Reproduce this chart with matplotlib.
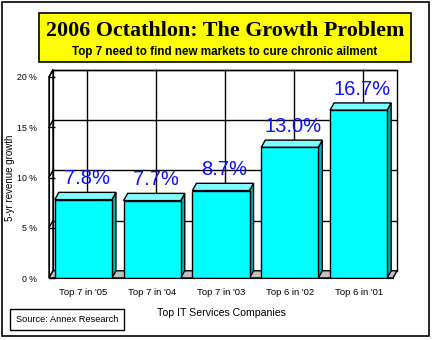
import numpy as np
import matplotlib.pyplot as plt
from matplotlib.patches import Rectangle, Polygon

# data
categories = ["Top 7 in '05", "Top 7 in '04", "Top 7 in '03", "Top 6 in '02", "Top 6 in '01"]
growth = [7.8, 7.7, 8.7, 13.0, 16.7]
value_labels = ["7.8%", "7.7%", "8.7%", "13.0%", "16.7%"]
yticks = [0, 5, 10, 15, 20]
ytick_labels = ["0 %", "5 %", "10 %", "15 %", "20 %"]

W, H = 433, 340
fig = plt.figure(figsize=(W / 100, H / 100), dpi=100)
fig.patch.set_facecolor('white')

# background axes in pixel units for frame, title box and notes
bg = fig.add_axes([0, 0, 1, 1])
bg.set_xlim(0, W)
bg.set_ylim(H, 0)
bg.axis('off')
bg.add_patch(Rectangle((2, 2), 427, 334, fill=False, ec='black', lw=1.2))
bg.add_patch(Rectangle((39, 13), 372, 49, fc='#ffff00', ec='black', lw=1.2))
bg.text(225, 31, "2006 Octathlon: The Growth Problem", ha='center', va='center',
        family='Liberation Serif', weight='bold', fontsize=15.8)
bg.text(225, 51.5, "Top 7 need to find new markets to cure chronic ailment", ha='center',
        va='center', family='Liberation Sans', weight='bold', fontsize=8.4)
bg.add_patch(Rectangle((10, 309), 114, 21, fill=False, ec='black', lw=1))
bg.text(67, 319.5, "Source: Annex Research", ha='center', va='center',
        family='Liberation Sans', fontsize=6.7)
bg.text(221, 313, "Top IT Services Companies", ha='center', va='center',
        family='Liberation Sans', fontsize=7.6)
bg.text(10, 178, "5-yr revenue growth", rotation=90, ha='center', va='center',
        family='Liberation Sans', fontsize=7)

# chart axes: front plane
ax = fig.add_axes([49 / W, (H - 278) / H, 344 / W, 201 / H])
ax.set_xlim(-0.5, 4.5)
ax.set_ylim(0, 20)
ax.patch.set_alpha(0)

x = np.arange(len(categories))
w = 0.83
dx = 4 / 69.0      # depth offset in category units
dy = 0.72          # depth offset in percent units
n = len(categories)

# left wall
ax.add_patch(Polygon([(-0.5, 0), (-0.5 + dx, dy), (-0.5 + dx, 20 + dy), (-0.5, 20)],
                     closed=True, fc='white', ec='black', lw=1, clip_on=False, zorder=1))
# back wall
ax.add_patch(Rectangle((-0.5 + dx, dy), n, 20, fc='white', ec='black', lw=1,
                       clip_on=False, zorder=1))
for t in yticks[1:]:
    ax.plot([-0.5 + dx, n - 0.5 + dx], [t + dy, t + dy], color='black', lw=1,
            clip_on=False, zorder=1.5)
    ax.plot([-0.5, -0.5 + dx], [t, t + dy], color='black', lw=1, clip_on=False, zorder=1.5)
for xi in x:
    ax.plot([xi + dx, xi + dx], [dy, 20 + dy], color='black', lw=1, clip_on=False, zorder=1.5)
# floor
ax.add_patch(Polygon([(-0.5, 0), (n - 0.5, 0), (n - 0.5 + dx, dy), (-0.5 + dx, dy)],
                     closed=True, fc='#c0c0c0', ec='black', lw=1, clip_on=False, zorder=1.6))

# bars: side, top, front
for xi, v in zip(x, growth):
    r = xi + w / 2
    l = xi - w / 2
    ax.add_patch(Polygon([(r, 0), (r + dx, dy), (r + dx, v + dy), (r, v)], closed=True,
                         fc='#00b4b4', ec='black', lw=1, zorder=2, clip_on=False))
    ax.add_patch(Polygon([(l, v), (r, v), (r + dx, v + dy), (l + dx, v + dy)], closed=True,
                         fc='#80ffff', ec='black', lw=1, zorder=2, clip_on=False))
ax.bar(x, growth, width=w, color='#00ffff', edgecolor='black', linewidth=1, zorder=3)

for xi, v, lab in zip(x, growth, value_labels):
    ax.text(xi + dx / 2 + 0.02, v + dy + 0.4, lab, ha='center', va='bottom', color='#1010ff',
            family='Liberation Sans', fontsize=14.5, zorder=4)

for s in ['top', 'right']:
    ax.spines[s].set_visible(False)
ax.spines['left'].set_zorder(5)
ax.spines['bottom'].set_zorder(5)
ax.set_axisbelow(False)
ax.set_xticks(x)
ax.set_xticklabels(categories, family='Liberation Sans', fontsize=6.8)
ax.set_yticks(yticks)
ax.set_yticklabels(ytick_labels, family='Liberation Sans', fontsize=6.3)
ax.tick_params(axis='x', direction='in', length=7, width=1, pad=7)
ax.tick_params(axis='y', direction='in', length=4, width=1, pad=9)

fig.savefig('out.png', dpi=100)
